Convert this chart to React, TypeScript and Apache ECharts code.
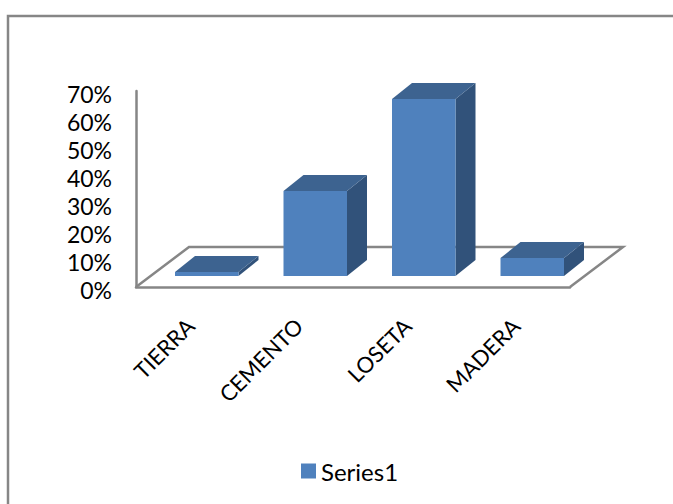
import React, { useEffect, useRef } from "react";
import * as echarts from "echarts";

const categories = ["TIERRA", "CEMENTO", "LOSETA", "MADERA"];
const values = [1.4, 30.4, 63.2, 6.4];
const yTicks = [0, 10, 20, 30, 40, 50, 60, 70];
const seriesName = "Series1";

const FONT = "Lato";
const GRAY = "#868686";
const FRONT = "#4F81BD";
const TOP = "#3D6390";
const SIDE = "#31527A";
const W = 673;
const H = 504;

// 3D projection offsets in pixels
const FLOOR_DX = 53;
const FLOOR_DY = -40;
const BAR_SHIFT_X = 16.75;
const BAR_SHIFT_Y = -11;
const BAR_DX = 20;
const BAR_DY = -16;
const BAR_W = 63.5;

function renderBar(_p: any, api: any) {
  const [cx, y1] = api.coord([api.value(0), api.value(1)]);
  const [, y0] = api.coord([api.value(0), 0]);
  const l = cx - 64 / 2 + BAR_SHIFT_X;
  const r = l + BAR_W;
  const t = y1 + BAR_SHIFT_Y;
  const b = y0 + BAR_SHIFT_Y;
  return {
    type: "group",
    children: [
      {
        type: "polygon",
        shape: { points: [[r, t], [r + BAR_DX, t + BAR_DY], [r + BAR_DX, b + BAR_DY], [r, b]] },
        style: { fill: SIDE },
      },
      {
        type: "polygon",
        shape: { points: [[l, t], [l + BAR_DX, t + BAR_DY], [r + BAR_DX, t + BAR_DY], [r, t]] },
        style: { fill: TOP },
      },
      { type: "rect", shape: { x: l, y: t, width: BAR_W, height: b - t }, style: { fill: FRONT } },
    ],
  };
}

function renderFloor(params: any, api: any) {
  const [, y0] = api.coord([0, 0]);
  const x0 = params.coordSys.x;
  const x1 = x0 + params.coordSys.width;
  return {
    type: "polyline",
    shape: {
      points: [
        [x0, y0],
        [x0 + FLOOR_DX, y0 + FLOOR_DY],
        [x1 + FLOOR_DX, y0 + FLOOR_DY],
        [x1, y0],
      ],
    },
    style: { fill: "none", stroke: GRAY, lineWidth: 2.5 },
  };
}

export default function App() {
  const ref = useRef<HTMLDivElement>(null);
  useEffect(() => {
    const chart = echarts.init(ref.current!, undefined, { renderer: "svg" });
    chart.setOption({
      animation: false,
      backgroundColor: "#FFFFFF",
      textStyle: { fontFamily: FONT },
      graphic: [
        {
          type: "polyline",
          silent: true,
          shape: { points: [[8, H + 5], [8, 16], [W + 5, 16]] },
          style: { fill: "none", stroke: GRAY, lineWidth: 2.5 },
        },
      ],
      legend: {
        data: [{ name: seriesName, itemStyle: { color: FRONT } }],
        left: 296,
        top: 454,
        icon: "rect",
        itemWidth: 15,
        itemHeight: 15,
        itemGap: 6,
        textStyle: { fontFamily: FONT, fontSize: 24, color: "#000000", padding: [0, 0, 0, 0] },
      },
      grid: { left: 136, right: W - 570, top: 91, bottom: H - 287, containLabel: false },
      xAxis: {
        type: "category",
        data: categories,
        axisTick: { show: false },
        axisLine: { show: true, lineStyle: { color: GRAY, width: 2.5 } },
        axisLabel: {
          interval: 0,
          rotate: 45,
          margin: 35,
          fontFamily: FONT,
          fontSize: 22,
          color: "#000000",
        },
      },
      yAxis: {
        type: "value",
        min: 0,
        max: 70,
        interval: 10,
        splitLine: { show: false },
        axisTick: { show: false },
        axisLine: { show: true, lineStyle: { color: GRAY, width: 2.5 } },
        axisLabel: {
          margin: 24,
          fontFamily: FONT,
          fontSize: 23,
          color: "#000000",
          verticalAlign: "top",
          lineHeight: 5,
          formatter: (v: number) => (yTicks.includes(v) ? `${v}%` : ""),
        },
      },
      series: [
        {
          type: "custom",
          name: "floor",
          renderItem: renderFloor,
          data: [[0, 0]],
          silent: true,
          z: 1,
        },
        {
          type: "custom",
          name: seriesName,
          renderItem: renderBar,
          encode: { x: 0, y: 1 },
          data: values.map((v, i) => [i, v]),
          itemStyle: { color: FRONT },
          z: 2,
        },
      ],
    });
    return () => chart.dispose();
  }, []);
  return (
    <div
      ref={ref}
      style={{ position: "absolute", left: 0, top: 0, width: W, height: H }}
    />
  );
}
